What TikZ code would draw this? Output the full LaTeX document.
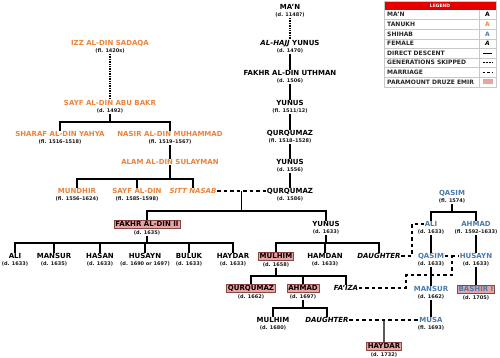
\documentclass[tikz,border=0pt]{standalone}
\usepackage{fontspec}
\setmainfont{DejaVu Sans}
\usetikzlibrary{positioning, calc}
\definecolor{tanukhorange}{HTML}{EC833A}
\definecolor{shihabblue}{HTML}{4A7BB0}
\definecolor{emirpink}{HTML}{E8A3A3}
\definecolor{emirline}{HTML}{8A4545}
\definecolor{legendred}{HTML}{E50000}
\definecolor{gridgray}{HTML}{C8C8C8}
\newcommand{\namesize}{\fontsize{7}{8}\selectfont\bfseries}
\newcommand{\datesize}{\fontsize{5}{6}\selectfont\bfseries}
\newcommand{\legsize}{\fontsize{6}{7}\selectfont\bfseries}

\tikzset{
  mname/.style={font=\namesize, inner sep=0.6pt, text height=5.1pt, text depth=0.2pt},
  tname/.style={mname, text=tanukhorange},
  sname/.style={mname, text=shihabblue},
  female/.style={font=\namesize\itshape},
  emir/.style={fill=emirpink, draw=emirline, line width=0.4pt, inner sep=1.3pt},
  yr/.style={font=\datesize, inner sep=0.4pt, text height=3.8pt, text depth=1pt, text=black!90},
  desc/.style={line width=1.3pt},
  skip/.style={line width=1.3pt, dash pattern=on 1pt off 0.7pt},
  wed/.style={line width=1.3pt, dash pattern=on 3.5pt off 3pt},
  legtext/.style={font=\legsize, text=black!85, inner sep=0pt, anchor=west},
}

\begin{document}
\begin{tikzpicture}[x=1pt, y=-1pt]
\useasboundingbox (0,0) rectangle (500,358);
\fill[white] (0,0) rectangle (500,358);

% legend
\fill[legendred] (384,1) rectangle (496,10);
\node[font=\fontsize{4.5}{5}\selectfont\bfseries, text=white, inner sep=0pt] (legtitle) at (440,5.5) {LEGEND};
\foreach \lbl [count=\i] in {MA’N, TANUKH, SHIHAB, FEMALE, DIRECT DESCENT, GENERATIONS SKIPPED, MARRIAGE, PARAMOUNT DRUZE EMIR} {
  \node[legtext] (leg\i) at (387, 5.2+9.6*\i) {\lbl};
  \draw[gridgray, line width=0.5pt] (384, 10+9.6*\i) -- (496, 10+9.6*\i);
}
\draw[gridgray, line width=0.5pt] (384,1) rectangle (496,86.8);
\draw[gridgray, line width=0.5pt] (479,10) -- (479,86.8);
\node[font=\legsize] (symA) at (487.5,14.8) {A};
\node[font=\legsize, text=tanukhorange] (symB) at (487.5,24.4) {A};
\node[font=\legsize, text=shihabblue] (symC) at (487.5,34) {A};
\node[font=\legsize\itshape] (symD) at (487.5,43.6) {A};
\draw[desc] (483,53.2) -- (492,53.2);
\draw[line width=1.3pt, dash pattern=on 2.2pt off 0.8pt] (482.5,62.8) -- (492.5,62.8);
\draw[line width=1.3pt, dash pattern=on 2.5pt off 2pt] (482.5,72.4) -- (493,72.4);
\fill[emirpink] (482.5,79.5) rectangle (492.5,84.5);

% Ma'n line
\node[mname] (maan) at (290,7) {MA’N};
\node[yr, below=1.5pt of maan] (maand) {(d. 1148?)};
\node[mname] (hajj) at (290,43) {\textit{AL-HAJJ} YUNUS};
\node[yr, below=1.5pt of hajj] (hajjd) {(d. 1470)};
\node[mname] (uthman) at (290,73) {FAKHR AL-DIN UTHMAN};
\node[yr, below=1.5pt of uthman] (uthmand) {(d. 1506)};
\node[mname] (yunusA) at (290,103) {YUNUS};
\node[yr, below=1.5pt of yunusA] (yunusAd) {(fl. 1511/12)};
\node[mname] (qurqA) at (290,133) {QURQUMAZ};
\node[yr, below=1.5pt of qurqA] (qurqAd) {(fl. 1518–1528)};
\node[mname] (yunusB) at (290,162) {YUNUS};
\node[yr, below=1.5pt of yunusB] (yunusBd) {(d. 1556)};
\node[mname] (qurqB) at (290,191) {QURQUMAZ};
\node[yr, below=1.5pt of qurqB] (qurqBd) {(d. 1586)};
\draw[skip] (maand) -- (hajj);
\draw[desc] (hajjd) -- (uthman);
\draw[desc] (uthmand) -- (yunusA);
\draw[desc] (yunusAd) -- (qurqA);
\draw[desc] (qurqAd) -- (yunusB);
\draw[desc] (yunusBd) -- (qurqB);

% Tanukh
\node[tname] (izz) at (110,43) {IZZ AL-DIN SADAQA};
\node[yr, below=1.5pt of izz] (izzd) {(fl. 1420s)};
\node[tname] (abubakr) at (110,103) {SAYF AL-DIN ABU BAKR};
\node[yr, below=1.5pt of abubakr] (abubakrd) {(d. 1492)};
\node[tname] (sharaf) at (60,134) {SHARAF AL-DIN YAHYA};
\node[yr, below=1.5pt of sharaf] (sharafd) {(fl. 1516–1518)};
\node[tname] (nasir) at (170,134) {NASIR AL-DIN MUHAMMAD};
\node[yr, below=1.5pt of nasir] (nasird) {(fl. 1519–1567)};
\node[tname] (alam) at (170,162) {ALAM AL-DIN SULAYMAN};
\node[tname] (mundhir) at (77,191) {MUNDHIR};
\node[yr, below=1.5pt of mundhir] (mundhird) {(fl. 1556–1624)};
\node[tname] (sayf) at (137,191) {SAYF AL-DIN};
\node[yr, below=1.5pt of sayf] (sayfd) {(fl. 1585–1598)};
\node[tname, female] (sitt) at (193,191) {SITT NASAB};
\draw[skip] (izzd) -- (abubakr);
\draw[desc] (abubakrd.south) -- (abubakrd.south |- 0,122);
\draw[desc] (sharaf.north) |- (nasir.north |- 0,122) -- (nasir.north);
\draw[desc] (nasird) -- (alam);
\draw[desc] (alam.south) -- (alam.south |- 0,179);
\draw[desc] (mundhir.north) |- (sitt.north |- 0,179) -- (sitt.north);
\draw[desc] (sayf.north) -- (sayf.north |- 0,179);

% Sitt Nasab and Qurqumaz
\draw[wed] (sitt.east) -- (qurqB.west);
\coordinate (wedA) at ($(sitt.east)!0.5!(qurqB.west)$);
\node[mname, emir] (fakhr) at (147,224) {FAKHR AL-DIN II};
\node[yr, below=1.5pt of fakhr] (fakhrd) {(d. 1635)};
\node[mname] (yunusC) at (326,224) {YUNUS};
\node[yr, below=1.5pt of yunusC] (yunusCd) {(d. 1633)};
\draw[desc] (wedA) -- (wedA |- 0,211);
\draw[desc] (fakhr.north) |- (yunusC.north |- 0,211) -- (yunusC.north);

% sons of Fakhr al-Din II
\foreach \id/\x/\nm/\when in {aliF/15/ALI/(d. 1633), mansurF/54/MANSUR/(d. 1635), hasanF/100/HASAN/(d. 1633), husaynF/145/HUSAYN/(d. 1690 or 1697), bulukF/189/BULUK/(d. 1633), haydarF/233/HAYDAR/(d. 1633)} {
  \node[mname] (\id) at (\x,256) {\nm};
  \node[yr, below=1.5pt of \id] (\id d) {\when};
  \draw[desc] (\id.north) -- (\id.north |- 0,243);
}
\draw[desc] (fakhrd.south) -- (fakhrd.south |- 0,243);
\draw[desc] (aliF.north) |- (haydarF.north |- 0,243) -- (haydarF.north);

% children of Yunus
\node[mname, emir] (mulhim) at (276,256) {MULHIM};
\node[yr, below=1.5pt of mulhim] (mulhimd) {(d. 1658)};
\node[mname] (hamdan) at (325,256) {HAMDAN};
\node[yr, below=1.5pt of hamdan] (hamdand) {(d. 1633)};
\node[mname, female] (daughterA) at (379,256) {DAUGHTER};
\draw[desc] (yunusCd.south) -- (yunusCd.south |- 0,243);
\draw[desc] (mulhim.north) |- (daughterA.north |- 0,243) -- (daughterA.north);
\draw[desc] (hamdan.north) -- (hamdan.north |- 0,243);

% children of Mulhim
\node[mname, emir] (qurqC) at (251,288) {QURQUMAZ};
\node[yr, below=1.5pt of qurqC] (qurqCd) {(d. 1662)};
\node[mname, emir] (ahmad) at (303,288) {AHMAD};
\node[yr, below=1.5pt of ahmad] (ahmadd) {(d. 1697)};
\node[mname, female] (faiza) at (346,288) {FA’IZA};
\draw[desc] (mulhimd.south) -- (mulhimd.south |- 0,276);
\draw[desc] (qurqC.north) |- (faiza.north |- 0,276) -- (faiza.north);
\draw[desc] (ahmad.north) -- (ahmad.north |- 0,276);

% children of Ahmad
\node[mname] (mulhimB) at (273,320) {MULHIM};
\node[yr, below=1.5pt of mulhimB] (mulhimBd) {(d. 1680)};
\node[mname, female] (daughterB) at (327,320) {DAUGHTER};
\draw[desc] (ahmadd.south) -- (ahmadd.south |- 0,308);
\draw[desc] (mulhimB.north) |- (daughterB.north |- 0,308) -- (daughterB.north);

% Shihab
\node[sname] (qasimA) at (452,193) {QASIM};
\node[yr, below=1.5pt of qasimA] (qasimAd) {(fl. 1574)};
\node[sname] (aliS) at (431,224) {ALI};
\node[yr, below=1.5pt of aliS] (aliSd) {(d. 1633)};
\node[sname] (ahmadS) at (476,224) {AHMAD};
\node[yr, below=1.5pt of ahmadS] (ahmadSd) {(fl. 1592–1633)};
\node[sname] (qasimB) at (431,256) {QASIM};
\node[yr, below=1.5pt of qasimB] (qasimBd) {(d. 1633)};
\node[sname] (husaynS) at (476,256) {HUSAYN};
\node[yr, below=1.5pt of husaynS] (husaynSd) {(d. 1633)};
\node[sname] (mansurS) at (431,289) {MANSUR};
\node[yr, below=1.5pt of mansurS] (mansurSd) {(d. 1662)};
\node[sname, emir] (bashir) at (476,289) {BASHIR I};
\node[yr, below=1.5pt of bashir] (bashird) {(d. 1705)};
\node[sname] (musa) at (431,320) {MUSA};
\node[yr, below=1.5pt of musa] (musad) {(fl. 1693)};
\draw[desc] (qasimAd.south) -- (qasimAd.south |- 0,212);
\draw[desc] (aliS.north) |- (ahmadS.north |- 0,212) -- (ahmadS.north);
\draw[desc] (aliSd) -- (qasimB);
\draw[desc] (qasimBd) -- (mansurS);
\draw[desc] (mansurSd) -- (musa);
\draw[desc] (ahmadSd) -- (husaynS);
\draw[desc] (husaynSd) -- (bashir);

% marriages
\coordinate (bendA) at (412,256);
\draw[wed] (daughterA.east) -| (bendA) |- (aliS.west);
\draw[wed] (qasimB.east) -- (husaynS.west);
\coordinate (wedB) at ($(qasimB.east)!0.5!(husaynS.west)$);
\coordinate (bendB) at (406,275);
\draw[wed] (faiza.east) -| (bendB) -| (wedB);
\draw[wed] (daughterB.east) -- (musa.west);
\coordinate (wedC) at ($(daughterB.east)!0.5!(musa.west)$);
\node[mname, emir] (haydarB) at (384,346) {HAYDAR};
\node[yr, below=1.5pt of haydarB] (haydarBd) {(d. 1732)};
\draw[desc] (wedC) -- (haydarB);
\end{tikzpicture}
\end{document}
